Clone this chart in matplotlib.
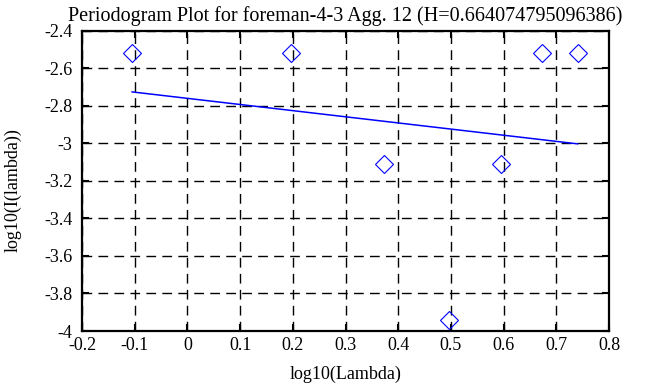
import matplotlib
matplotlib.use("Agg")
import matplotlib.pyplot as plt

# periodogram points (log10 lambda, log10 I(lambda))
log_lambda = [-0.1049, 0.1961, 0.3722, 0.4971, 0.5941, 0.6732, 0.7402]
log_I = [-2.52, -2.52, -3.11, -3.94, -3.11, -2.52, -2.52]

# fitted line ends
fit_x = [-0.1049, 0.7402]
fit_y = [-2.725, -3.002]

title = "Periodogram Plot for foreman-4-3 Agg. 12 (H=0.664074795096386)"

plt.rcParams['font.family'] = ['Liberation Serif', 'DejaVu Serif']
plt.rcParams['font.size'] = 13

fig = plt.figure(figsize=(6.63, 3.87), dpi=100)
ax = fig.add_axes([0.1237, 0.1447, 0.7949, 0.7753])

ax.plot(log_lambda, log_I, linestyle='none', marker='D', markersize=9.5,
        markerfacecolor='none', markeredgecolor='blue', markeredgewidth=0.8)
ax.plot(fit_x, fit_y, color='blue', linewidth=1.1)

ax.set_xlim(-0.2, 0.8)
ax.set_ylim(-4, -2.4)
ax.set_xticks([-0.2, -0.1, 0, 0.1, 0.2, 0.3, 0.4, 0.5, 0.6, 0.7, 0.8])
ax.set_xticklabels(['-0.2', '-0.1', '0', '0.1', '0.2', '0.3', '0.4', '0.5', '0.6', '0.7', '0.8'])
ax.set_yticks([-4, -3.8, -3.6, -3.4, -3.2, -3, -2.8, -2.6, -2.4])
ax.set_yticklabels(['-4', '-3.8', '-3.6', '-3.4', '-3.2', '-3', '-2.8', '-2.6', '-2.4'])

ax.grid(True, color='black', linestyle=(0, (7, 4.5)), linewidth=1.0)
ax.tick_params(direction='in', top=True, right=True, length=5, width=1.5)
ax.tick_params(axis='x', pad=4)
ax.tick_params(axis='y', pad=7)
for s in ax.spines.values():
    s.set_linewidth(1.6)

ax.set_title(title, fontsize=14.5, pad=7)
ax.set_xlabel("log10(Lambda)", labelpad=9)
ax.set_ylabel("log10(I(lambda))")
ax.yaxis.set_label_coords(-0.115, 0.47)

fig.savefig("out.png", dpi=100)
